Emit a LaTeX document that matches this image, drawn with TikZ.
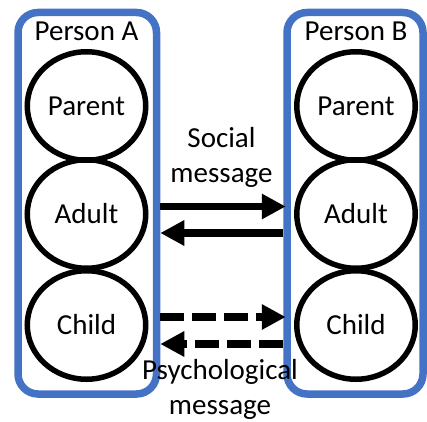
\documentclass[tikz,border=0pt]{standalone}
\usepackage{fontspec}
\setmainfont{Carlito}
\usetikzlibrary{arrows.meta, shapes.geometric}
\definecolor{boxblue}{HTML}{4472C4}

\begin{document}
\begin{tikzpicture}[x=1pt, y=1pt, font=\fontsize{29}{35}\selectfont,
  person/.style={draw=boxblue, line width=7.5pt, rounded corners=20pt, minimum height=381.5pt},
  ego/.style={draw, ellipse, line width=5.5pt, minimum width=118.5pt, minimum height=108.5pt, inner sep=0pt},
  msg/.style={line width=7.5pt, -{Triangle[length=24pt, width=24pt]}},
  hidden/.style={msg, dash pattern=on 24pt off 8pt}]
  \useasboundingbox (0,0) rectangle (427,421);

  % the two people
  \node[person, minimum width=138.5pt] (boxA) at (87.25,217.75) {};
  \node[person, minimum width=136pt] (boxB) at (355,217.75) {};
  \node[anchor=base] (nameA) at (86.5,380.3) {Person A};
  \node[anchor=base] (nameB) at (356,380.3) {Person B};

  % ego states
  \node[ego] (parentA) at (86.5,315) {Parent};
  \node[ego] (adultA) at (86.5,207) {Adult};
  \node[ego] (childA) at (86.5,96) {Child};
  \node[ego] (parentB) at (356,315) {Parent};
  \node[ego] (adultB) at (356,207) {Adult};
  \node[ego] (childB) at (356,96) {Child};

  % social level: adult to adult
  \draw[msg, shorten >=-2.5pt] (boxA.east |- 0,214.5) -- (boxB.west |- 0,214.5);
  \draw[msg] (boxB.west |- 0,188) -- (boxA.east |- 0,188);
  \node[align=center] (social) at (221.5,264) {Social\\message};

  % psychological level: child to child
  \draw[hidden, shorten >=-2.5pt] (boxA.east |- 0,104) -- (boxB.west |- 0,104);
  \draw[hidden] (boxB.west |- 0,77) -- (boxA.east |- 0,77);
  \node[align=center] (psych) at (220,31.5) {Psychological\\message};
\end{tikzpicture}
\end{document}
